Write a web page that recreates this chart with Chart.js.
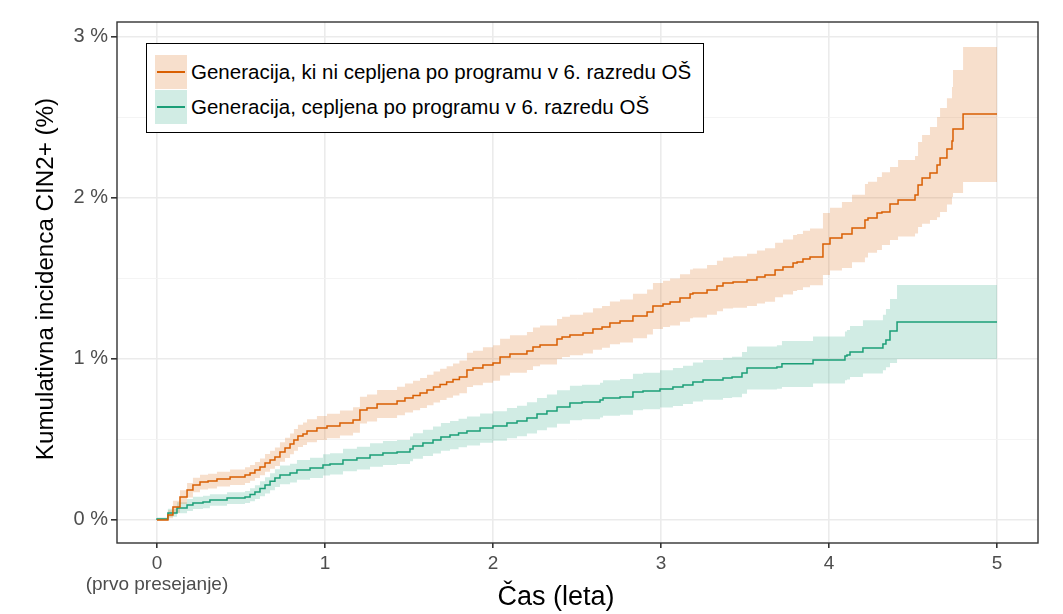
<!DOCTYPE html>
<html>
<head>
<meta charset="utf-8">
<script src="https://cdn.jsdelivr.net/npm/chart.js@4/dist/chart.umd.min.js"></script>
<style>
  body { margin: 0; background: #fff; }
  #wrap { position: relative; width: 1063px; height: 614px; }
  #legend {
    position: absolute; left: 146px; top: 43px; width: 556px; height: 88px;
    border: 1.5px solid #000; background: #fff;
    font-family: 'Liberation Sans', Arial, sans-serif; font-size: 20.5px; color: #000;
  }
  .row { position: absolute; left: 8px; height: 34px; display: flex; align-items: center; white-space: nowrap; }
  .key { width: 32px; height: 34px; position: relative; margin-right: 4px; flex: none; }
  .key span { position: absolute; left: 2px; right: 2px; top: 16px; height: 1.5px; }
</style>
</head>
<body>
<div id="wrap">
  <canvas id="chart" width="1063" height="614"></canvas>
  <div id="legend">
    <div class="row" style="top:11px">
      <div class="key" style="background:rgba(217,95,2,0.2)"><span style="background:#D95F02"></span></div>
      Generacija, ki ni cepljena po programu v 6. razredu OŠ
    </div>
    <div class="row" style="top:46px">
      <div class="key" style="background:rgba(27,158,119,0.2)"><span style="background:#1B9E77"></span></div>
      Generacija, cepljena po programu v 6. razredu OŠ
    </div>
  </div>
</div>
<script>
// Time in years, cumulative incidence in %
const orangeX = [0, 0.065, 0.095, 0.137, 0.179, 0.214, 0.256, 0.304, 0.357, 0.435, 0.524, 0.554, 0.583, 0.613, 0.643, 0.673, 0.702, 0.732, 0.762, 0.792,
  0.815, 0.839, 0.869, 0.893, 0.952, 1.012, 1.089, 1.167, 1.208, 1.25, 1.31, 1.429, 1.476, 1.524, 1.566, 1.607, 1.646, 1.685, 1.724, 1.762,
  1.8, 1.845, 1.881, 1.94, 2.0, 2.042, 2.101, 2.202, 2.238, 2.28, 2.381, 2.411, 2.458, 2.536, 2.595, 2.649, 2.696, 2.756, 2.833, 2.917,
  2.952, 3.012, 3.054, 3.113, 3.173, 3.19, 3.274, 3.333, 3.369, 3.429, 3.512, 3.571, 3.619, 3.679, 3.726, 3.786, 3.81, 3.845, 3.887, 3.964,
  4.006, 4.077, 4.137, 4.214, 4.232, 4.286, 4.315, 4.363, 4.411, 4.512, 4.53, 4.554, 4.601, 4.643, 4.661, 4.702, 4.732, 4.738, 4.798, 4.851,
  5.0];
const orangeY = [0, 0, 0.031, 0.081, 0.143, 0.186, 0.217, 0.236, 0.242, 0.255, 0.267, 0.28, 0.292, 0.311, 0.329, 0.354, 0.373, 0.391, 0.422, 0.447,
  0.472, 0.497, 0.522, 0.534, 0.553, 0.571, 0.584, 0.602, 0.621, 0.683, 0.696, 0.72, 0.739, 0.758, 0.773, 0.789, 0.807, 0.826, 0.842, 0.857,
  0.872, 0.888, 0.932, 0.944, 0.963, 0.975, 1.012, 1.031, 1.05, 1.075, 1.087, 1.124, 1.137, 1.149, 1.161, 1.186, 1.199, 1.224, 1.236, 1.267,
  1.292, 1.329, 1.342, 1.354, 1.379, 1.404, 1.41, 1.429, 1.453, 1.472, 1.478, 1.491, 1.509, 1.522, 1.553, 1.571, 1.596, 1.602, 1.621, 1.634,
  1.714, 1.752, 1.776, 1.814, 1.863, 1.876, 1.907, 1.913, 1.963, 1.988, 2.019, 2.081, 2.124, 2.155, 2.205, 2.248, 2.304, 2.354, 2.429, 2.522,
  2.522];
const orangeUpper = [0, 0.01, 0.06, 0.12, 0.185, 0.23, 0.262, 0.281, 0.287, 0.3, 0.314, 0.328, 0.342, 0.36, 0.382, 0.41, 0.43, 0.45, 0.483, 0.51,
  0.537, 0.565, 0.592, 0.605, 0.625, 0.646, 0.66, 0.68, 0.7, 0.766, 0.78, 0.807, 0.828, 0.848, 0.865, 0.882, 0.902, 0.922, 0.939, 0.955,
  0.972, 0.99, 1.038, 1.051, 1.073, 1.086, 1.126, 1.147, 1.168, 1.195, 1.208, 1.248, 1.262, 1.275, 1.288, 1.315, 1.329, 1.357, 1.37, 1.405,
  1.432, 1.472, 1.486, 1.5, 1.527, 1.555, 1.562, 1.583, 1.61, 1.631, 1.638, 1.653, 1.673, 1.688, 1.722, 1.742, 1.77, 1.776, 1.797, 1.81,
  1.907, 1.94, 1.975, 2.02, 2.087, 2.1, 2.13, 2.16, 2.193, 2.236, 2.26, 2.348, 2.391, 2.441, 2.503, 2.559, 2.62, 2.689, 2.795, 2.938,
  2.938];
const orangeLower = [0, 0, 0.01, 0.045, 0.1, 0.14, 0.172, 0.19, 0.196, 0.208, 0.218, 0.23, 0.243, 0.26, 0.278, 0.3, 0.318, 0.335, 0.362, 0.385,
  0.408, 0.43, 0.453, 0.465, 0.482, 0.497, 0.508, 0.524, 0.542, 0.6, 0.612, 0.633, 0.651, 0.668, 0.682, 0.696, 0.713, 0.73, 0.745, 0.759,
  0.773, 0.787, 0.826, 0.837, 0.853, 0.864, 0.898, 0.915, 0.932, 0.955, 0.966, 1.0, 1.012, 1.023, 1.034, 1.057, 1.069, 1.091, 1.102, 1.129,
  1.152, 1.186, 1.198, 1.208, 1.231, 1.253, 1.258, 1.275, 1.296, 1.313, 1.318, 1.329, 1.345, 1.356, 1.384, 1.4, 1.422, 1.428, 1.445, 1.458,
  1.522, 1.55, 1.565, 1.6, 1.63, 1.66, 1.677, 1.708, 1.739, 1.76, 1.78, 1.82, 1.84, 1.863, 1.88, 1.913, 1.96, 2.006, 2.031, 2.099,
  2.099];

const greenX = [0, 0.065, 0.119, 0.179, 0.214, 0.274, 0.315, 0.417, 0.524, 0.554, 0.583, 0.613, 0.643, 0.673, 0.702, 0.732, 0.792, 0.833, 0.911, 0.988,
  1.03, 1.107, 1.19, 1.268, 1.345, 1.429, 1.506, 1.524, 1.583, 1.643, 1.69, 1.744, 1.795, 1.845, 1.923, 2.0, 2.083, 2.143, 2.202, 2.262,
  2.321, 2.381, 2.458, 2.53, 2.637, 2.655, 2.756, 2.833, 2.893, 2.994, 3.071, 3.131, 3.19, 3.25, 3.369, 3.423, 3.482, 3.512, 3.69, 3.72,
  3.905, 4.095, 4.107, 4.125, 4.202, 4.321, 4.339, 4.363, 4.405, 4.714, 5.0];
const greenY = [0, 0.006, 0.043, 0.075, 0.093, 0.106, 0.112, 0.124, 0.137, 0.143, 0.158, 0.174, 0.195, 0.217, 0.24, 0.261, 0.28, 0.292, 0.311, 0.323,
  0.342, 0.348, 0.373, 0.385, 0.404, 0.416, 0.422, 0.441, 0.46, 0.478, 0.497, 0.516, 0.528, 0.54, 0.553, 0.571, 0.584, 0.602, 0.615, 0.634,
  0.658, 0.677, 0.702, 0.727, 0.733, 0.745, 0.758, 0.764, 0.795, 0.801, 0.814, 0.826, 0.839, 0.857, 0.87, 0.882, 0.888, 0.913, 0.944, 0.95,
  0.97, 0.994, 1.019, 1.025, 1.043, 1.068, 1.093, 1.118, 1.174, 1.23, 1.23];
const greenUpper = [0, 0.015, 0.07, 0.11, 0.13, 0.145, 0.151, 0.16, 0.172, 0.18, 0.197, 0.215, 0.24, 0.265, 0.29, 0.315, 0.338, 0.35, 0.372, 0.386,
  0.408, 0.414, 0.442, 0.455, 0.477, 0.49, 0.497, 0.518, 0.539, 0.56, 0.581, 0.602, 0.615, 0.628, 0.643, 0.662, 0.676, 0.696, 0.71, 0.731,
  0.758, 0.779, 0.806, 0.834, 0.84, 0.853, 0.868, 0.875, 0.908, 0.915, 0.93, 0.944, 0.958, 0.978, 0.993, 1.007, 1.014, 1.043, 1.078, 1.085,
  1.112, 1.14, 1.17, 1.18, 1.205, 1.24, 1.275, 1.31, 1.373, 1.46, 1.46];
const greenLower = [0, 0, 0.02, 0.042, 0.056, 0.068, 0.073, 0.088, 0.1, 0.105, 0.117, 0.13, 0.147, 0.165, 0.185, 0.205, 0.222, 0.233, 0.25, 0.26,
  0.277, 0.282, 0.303, 0.314, 0.331, 0.342, 0.347, 0.364, 0.38, 0.397, 0.413, 0.43, 0.44, 0.451, 0.463, 0.48, 0.492, 0.508, 0.52, 0.537,
  0.558, 0.575, 0.598, 0.62, 0.626, 0.637, 0.648, 0.653, 0.682, 0.687, 0.698, 0.708, 0.72, 0.736, 0.747, 0.757, 0.762, 0.784, 0.81, 0.815,
  0.826, 0.847, 0.868, 0.873, 0.888, 0.91, 0.93, 0.948, 0.975, 1.0, 1.0];

const xTicks = [0, 1, 2, 3, 4, 5];
const xTickLabels = [['0', '(prvo presejanje)'], '1', '2', '3', '4', '5'];
const yTicks = [0, 0.5, 1, 1.5, 2, 2.5, 3];

const ORANGE = '#D95F02';
const GREEN = '#1B9E77';

function pts(xs, ys) {
  return xs.map((x, i) => ({ x: x, y: ys[i] }));
}

function lineSet(label, data, color) {
  return {
    label: label, data: data, borderColor: color, borderWidth: 1.5,
    pointRadius: 0, stepped: 'after', fill: false, order: 0
  };
}

function bandSet(data, color, fill) {
  return {
    data: data, borderWidth: 0, borderColor: 'rgba(0,0,0,0)', backgroundColor: color,
    pointRadius: 0, stepped: 'after', fill: fill, order: 1
  };
}

const FONT = "'Liberation Sans', Arial, sans-serif";

// axis titles and the panel border
const decor = {
  id: 'decor',
  afterDraw(chart) {
    const ctx = chart.ctx;
    const a = chart.chartArea;
    ctx.save();
    ctx.strokeStyle = '#333333';
    ctx.lineWidth = 1.4;
    ctx.strokeRect(a.left, a.top, a.right - a.left, a.bottom - a.top);
    ctx.fillStyle = '#000';
    ctx.textAlign = 'center';
    ctx.textBaseline = 'middle';
    ctx.font = '27px ' + FONT;
    ctx.fillText('Čas (leta)', 556, 598);
    ctx.font = '24.2px ' + FONT;
    ctx.translate(46, 279);
    ctx.rotate(-Math.PI / 2);
    ctx.fillText('Kumulativna incidenca CIN2+ (%)', 0, 0);
    ctx.restore();
  }
};

new Chart(document.getElementById('chart'), {
  type: 'line',
  data: {
    datasets: [
      lineSet('Generacija, ki ni cepljena po programu v 6. razredu OŠ', pts(orangeX, orangeY), ORANGE),
      lineSet('Generacija, cepljena po programu v 6. razredu OŠ', pts(greenX, greenY), GREEN),
      bandSet(pts(orangeX, orangeUpper), 'rgba(217,95,2,0.2)', '+1'),
      bandSet(pts(orangeX, orangeLower), 'rgba(217,95,2,0.2)', false),
      bandSet(pts(greenX, greenUpper), 'rgba(27,158,119,0.2)', '+1'),
      bandSet(pts(greenX, greenLower), 'rgba(27,158,119,0.2)', false)
    ]
  },
  options: {
    responsive: false,
    animation: false,
    layout: { padding: { top: 22, right: 25, left: 0, bottom: 0 } },
    plugins: {
      legend: { display: false },
      tooltip: { enabled: false }
    },
    scales: {
      x: {
        type: 'linear',
        min: -0.238,
        max: 5.244,
        afterBuildTicks: axis => { axis.ticks = xTicks.map(v => ({ value: v })); },
        afterFit: axis => { axis.height = 71; },
        border: { display: false },
        grid: { color: '#EBEBEB', lineWidth: 1.6, tickColor: '#333333', tickLength: 5 },
        ticks: {
          color: '#4D4D4D', font: { family: FONT, size: 19, lineHeight: 1.1 }, padding: 5,
          maxRotation: 0,
          callback: v => xTickLabels[xTicks.indexOf(v)]
        }
      },
      y: {
        type: 'linear',
        min: -0.143,
        max: 3.093,
        afterBuildTicks: axis => { axis.ticks = yTicks.map(v => ({ value: v })); },
        afterFit: axis => { axis.width = 117; },
        border: { display: false },
        grid: {
          color: c => (c.tick && c.tick.value % 1 === 0) ? '#EBEBEB' : '#F3F3F3',
          lineWidth: c => (c.tick && c.tick.value % 1 === 0) ? 1.6 : 0.9,
          tickColor: c => (c.tick && c.tick.value % 1 === 0) ? '#333333' : 'rgba(0,0,0,0)',
          tickLength: 6
        },
        ticks: {
          color: '#4D4D4D', font: { family: FONT, size: 20 }, padding: 3,
          callback: v => (v % 1 === 0) ? v + ' %' : ''
        }
      }
    }
  },
  plugins: [decor]
});
</script>
</body>
</html>
